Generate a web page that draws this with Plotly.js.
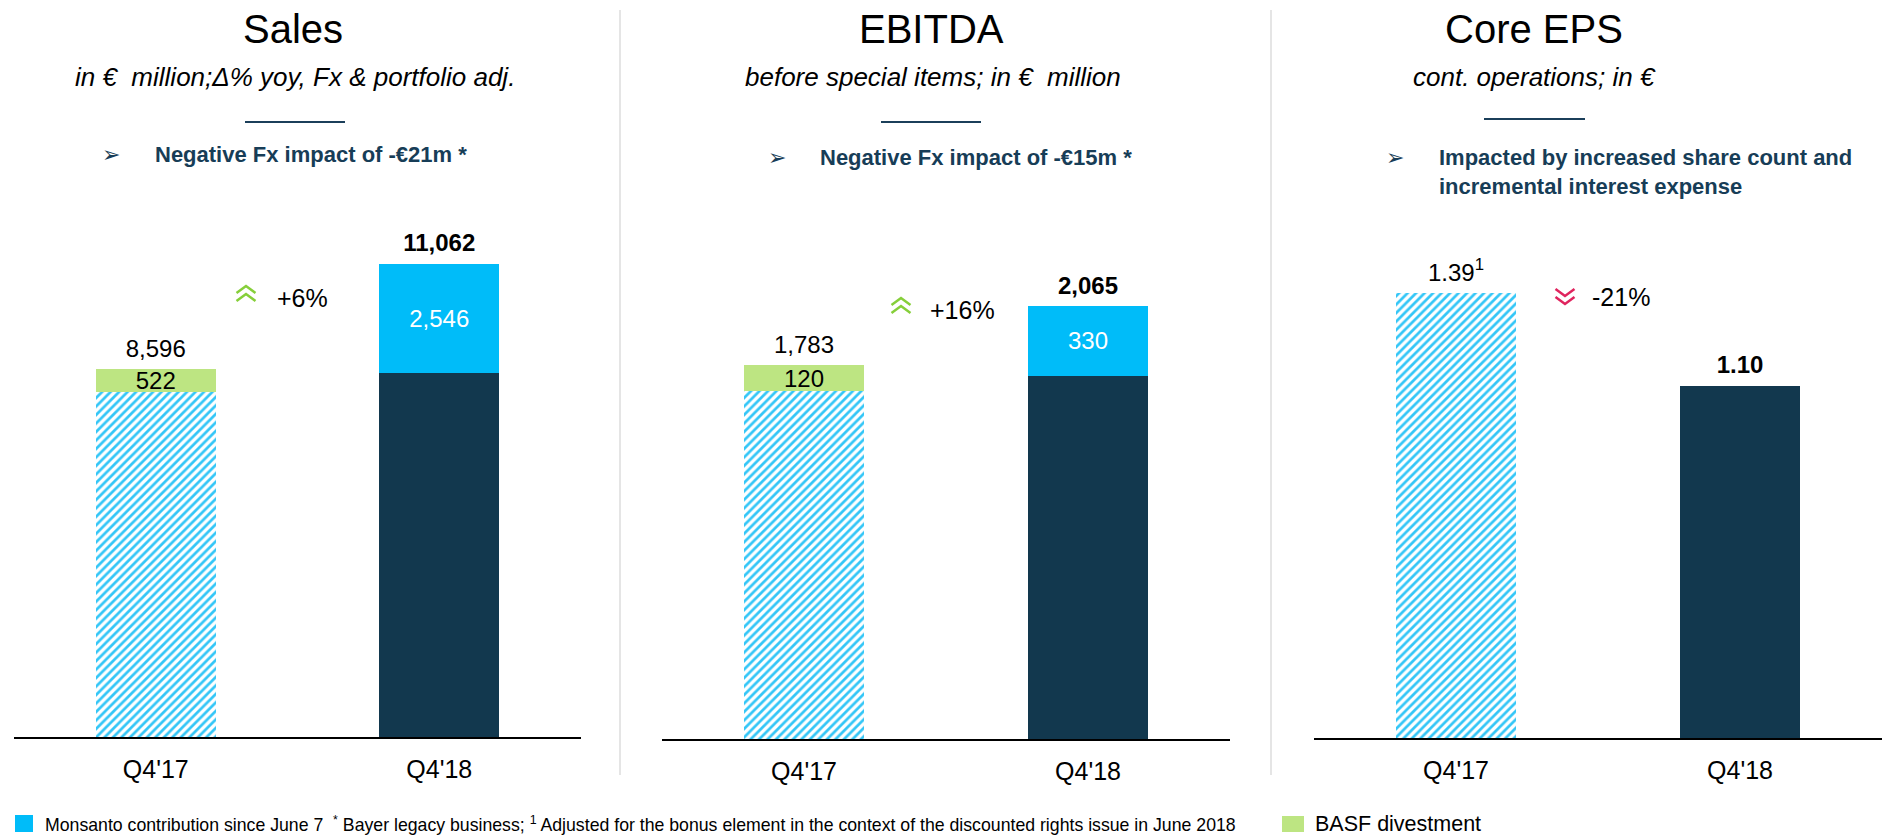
<!DOCTYPE html>
<html>
<head>
<meta charset="utf-8">
<script src="https://cdn.plot.ly/plotly-3.0.1.min.js"></script>
<style>html,body{margin:0;padding:0;background:#fff;}#chart{width:1889px;height:837px;}</style>
</head>
<body>
<div id="chart"></div>
<script>
// ---------- data ----------
const categories = ["Q4'17", "Q4'18"];
const salesTotal = [8596, 11062];
const salesBasf = [522, 0];
const salesMonsanto = [0, 2546];
const ebitdaTotal = [1783, 2065];
const ebitdaBasf = [120, 0];
const ebitdaMonsanto = [0, 330];
const epsValues = [1.39, 1.10];
const growthLabels = ['+6%', '+16%', '-21%'];
const panelTitles = ['Sales', 'EBITDA', 'Core EPS'];
const panelSubtitles = ['in €  million;Δ% yoy, Fx & portfolio adj.', 'before special items; in €  million', 'cont. operations; in €'];
const panelNotes = ['Negative Fx impact of -€21m *', 'Negative Fx impact of -€15m *', 'Impacted by increased share count and<br>incremental interest expense'];
const footnoteText = 'Monsanto contribution since June 7  <sup>*</sup> Bayer legacy business; <sup>1</sup> Adjusted for the bonus element in the context of the discounted rights issue in June 2018';
const basfLegend = 'BASF divestment';

// ---------- style ----------
const W = 1889, H = 837;
const FONT = 'Liberation Sans, Arial, sans-serif';
const NAVY = '#12384e';
const CYAN = '#00bcf9';
const HATCH = '#33c6f7';
const GREEN = '#bde582';
const CHEV_GREEN = '#86cf3a';
const CHEV_RED = '#e0245e';
const TEXT_NAVY = '#173d57';
const px = x => x / W;
const py = y => 1 - y / H;
const fmt = v => v.toLocaleString('en-US');
const HATCH_PATTERN = { shape: '/', fgcolor: HATCH, bgcolor: '#ffffff', size: 6, solidity: 0.45 };

function stackTraces(total, basf, mons, xa, ya) {
  const base = total.map((t, i) => t - basf[i] - mons[i]);
  const hatched = base.map((v, i) => i === 0 ? v : null);   // prior-year Bayer legacy (hatched)
  const solid = base.map((v, i) => i === 1 ? v : null);     // current-year Bayer legacy (solid)
  return [
    { type: 'bar', x: categories, y: hatched, xaxis: xa, yaxis: ya, hoverinfo: 'skip',
      marker: { color: '#ffffff', line: { width: 0 }, pattern: HATCH_PATTERN } },
    { type: 'bar', x: categories, y: solid, xaxis: xa, yaxis: ya, hoverinfo: 'skip',
      marker: { color: NAVY, line: { width: 0 } } },
    { type: 'bar', x: categories, y: basf.map(v => v || null), xaxis: xa, yaxis: ya, hoverinfo: 'skip',
      marker: { color: GREEN, line: { width: 0 } },
      text: basf.map(v => v ? fmt(v) : ''), texttemplate: '%{text}', textposition: 'inside',
      insidetextanchor: 'middle', constraintext: 'none',
      textfont: { family: FONT, size: 24, color: '#000' } },
    { type: 'bar', x: categories, y: mons.map(v => v || null), xaxis: xa, yaxis: ya, hoverinfo: 'skip',
      marker: { color: CYAN, line: { width: 0 } },
      text: mons.map(v => v ? fmt(v) : ''), texttemplate: '%{text}', textposition: 'inside',
      insidetextanchor: 'middle', constraintext: 'none',
      textfont: { family: FONT, size: 24, color: '#ffffff' } },
    { type: 'scatter', mode: 'markers+text', x: categories, y: total, xaxis: xa, yaxis: ya, hoverinfo: 'skip',
      marker: { size: 9, opacity: 0 },
      text: total.map((v, i) => i === 1 ? '<b>' + fmt(v) + '</b>' : fmt(v)),
      textposition: 'top center', cliponaxis: false,
      textfont: { family: FONT, size: 24, color: '#000' } }
  ];
}

const traces = [
  ...stackTraces(salesTotal, salesBasf, salesMonsanto, 'x', 'y'),
  ...stackTraces(ebitdaTotal, ebitdaBasf, ebitdaMonsanto, 'x2', 'y2'),
  { type: 'bar', x: categories, y: epsValues.map((v, i) => i === 0 ? v : null), xaxis: 'x3', yaxis: 'y3', hoverinfo: 'skip',
    marker: { color: '#ffffff', line: { width: 0 }, pattern: HATCH_PATTERN } },
  { type: 'bar', x: categories, y: epsValues.map((v, i) => i === 1 ? v : null), xaxis: 'x3', yaxis: 'y3', hoverinfo: 'skip',
    marker: { color: NAVY, line: { width: 0 } } },
  { type: 'scatter', mode: 'markers+text', x: categories, y: epsValues, xaxis: 'x3', yaxis: 'y3', hoverinfo: 'skip',
    marker: { size: 9, opacity: 0 },
    text: [epsValues[0].toFixed(2) + '<sup>1</sup>', '<b>' + epsValues[1].toFixed(2) + '</b>'],
    textposition: 'top center', cliponaxis: false,
    textfont: { family: FONT, size: 24, color: '#000' } }
];

// panel geometry (pixels)
const panels = [
  { x0: 14, x1: 581, base: 737, top: 200, scale: 0.04276 },
  { x0: 662, x1: 1230, base: 739, top: 200, scale: 0.2095 },
  { x0: 1314, x1: 1882, base: 738, top: 200, scale: 320 }
];

function xaxisDef(p, anchor) {
  return { domain: [px(p.x0), px(p.x1)], anchor: anchor, type: 'category', range: [-0.5, 1.5],
    showline: true, linecolor: '#000', linewidth: 2, ticks: '', showgrid: false, zeroline: false,
    tickfont: { family: FONT, size: 25, color: '#000' }, ticklabelstandoff: 9, fixedrange: true };
}
function yaxisDef(p, anchor) {
  return { domain: [py(p.base), py(p.top)], anchor: anchor, range: [0, (p.base - p.top) / p.scale],
    visible: false, showgrid: false, zeroline: false, fixedrange: true };
}

const annotations = [];
const shapes = [];
function ann(x, y, text, opts) {
  annotations.push(Object.assign({ xref: 'paper', yref: 'paper', x: px(x), y: py(y), text: text,
    showarrow: false, xanchor: 'center', yanchor: 'middle',
    font: { family: FONT, size: 20, color: '#000' } }, opts || {}));
}
function line(x0, y0, x1, y1, color, width) {
  shapes.push({ type: 'line', xref: 'paper', yref: 'paper', x0: px(x0), y0: py(y0), x1: px(x1), y1: py(y1),
    line: { color: color, width: width } });
}
function rect(x0, y0, x1, y1, color) {
  shapes.push({ type: 'rect', xref: 'paper', yref: 'paper', x0: px(x0), y0: py(y0), x1: px(x1), y1: py(y1),
    fillcolor: color, line: { width: 0 } });
}
function chevrons(cx, top, up, color) {
  const hw = 9.5, h = 7, gap = 8;
  for (let k = 0; k < 2; k++) {
    const y0 = top + k * gap;
    let d;
    if (up) d = `M ${px(cx - hw)} ${py(y0 + h)} L ${px(cx)} ${py(y0)} L ${px(cx + hw)} ${py(y0 + h)}`;
    else d = `M ${px(cx - hw)} ${py(y0)} L ${px(cx)} ${py(y0 + h)} L ${px(cx + hw)} ${py(y0)}`;
    shapes.push({ type: 'path', xref: 'paper', yref: 'paper', path: d, line: { color: color, width: 2.5 } });
  }
}

// titles / subtitles / rules / notes
const titleX = [293, 931, 1534];
const subX = [295, 933, 1534];
titleX.forEach((x, i) => ann(x, 29, panelTitles[i], { font: { family: FONT, size: 40, color: '#000' } }));
subX.forEach((x, i) => ann(x, 77, '<i>' + panelSubtitles[i] + '</i>', { font: { family: FONT, size: 26, color: '#000' } }));
line(245, 122, 345, 122, '#1b3f5a', 2);
line(881, 122, 981, 122, '#1b3f5a', 2);
line(1484, 119, 1585, 119, '#1b3f5a', 2);

const BULLET_FONT = { family: 'DejaVu Sans', size: 22, color: TEXT_NAVY };
ann(111, 155, '➢', { font: BULLET_FONT });
ann(153, 155, '<b>' + panelNotes[0] + '</b>', { xanchor: 'left', font: { family: FONT, size: 22, color: TEXT_NAVY } });
ann(777, 158, '➢', { font: BULLET_FONT });
ann(818, 158, '<b>' + panelNotes[1] + '</b>', { xanchor: 'left', font: { family: FONT, size: 22, color: TEXT_NAVY } });
ann(1395, 158, '➢', { font: BULLET_FONT });
ann(1437, 171.5, '<b>' + panelNotes[2] + '</b>', { xanchor: 'left', align: 'left', font: { family: FONT, size: 22, color: TEXT_NAVY } });

// growth indicators
ann(275, 298, growthLabels[0], { xanchor: 'left', font: { family: FONT, size: 25, color: '#000' } });
chevrons(246, 286, true, CHEV_GREEN);
ann(928, 310, growthLabels[1], { xanchor: 'left', font: { family: FONT, size: 25, color: '#000' } });
chevrons(901, 298, true, CHEV_GREEN);
ann(1590, 297, growthLabels[2], { xanchor: 'left', font: { family: FONT, size: 25, color: '#000' } });
chevrons(1565, 289, false, CHEV_RED);

// separators
line(620, 10, 620, 775, '#dcdcdc', 1.5);
line(1271, 10, 1271, 775, '#dcdcdc', 1.5);

// footer
rect(15, 815, 33, 832, CYAN);
ann(43, 824, footnoteText, { xanchor: 'left', font: { family: FONT, size: 17.7, color: '#000' } });
rect(1282, 816, 1304, 832, GREEN);
ann(1313, 824, basfLegend, { xanchor: 'left', font: { family: FONT, size: 21.5, color: '#000' } });

const layout = {
  width: W, height: H, margin: { l: 0, r: 0, t: 0, b: 0 },
  paper_bgcolor: '#ffffff', plot_bgcolor: 'rgba(0,0,0,0)',
  showlegend: false, barmode: 'stack', bargap: 0.577,
  font: { family: FONT },
  xaxis: xaxisDef(panels[0], 'y'), yaxis: yaxisDef(panels[0], 'x'),
  xaxis2: xaxisDef(panels[1], 'y2'), yaxis2: yaxisDef(panels[1], 'x2'),
  xaxis3: xaxisDef(panels[2], 'y3'), yaxis3: yaxisDef(panels[2], 'x3'),
  annotations: annotations, shapes: shapes
};

Plotly.newPlot('chart', traces, layout, { displayModeBar: false, staticPlot: true });
</script>
</body>
</html>
